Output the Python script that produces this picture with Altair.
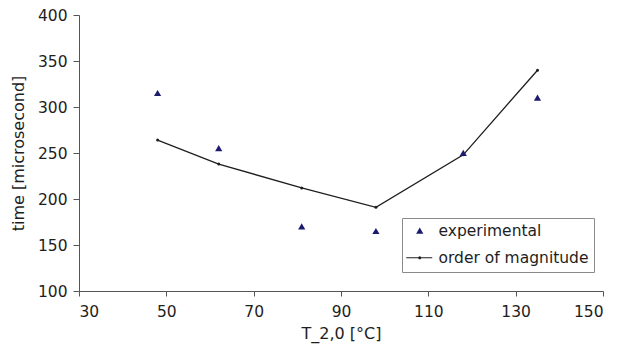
import altair as alt
import pandas as pd

# Measured response time versus initial temperature T_2,0
temp_exp = [48, 62, 81, 98, 118, 135]
time_exp = [315, 255, 170, 165, 250, 310]

# Order-of-magnitude estimate at the same temperatures
temp_model = [48, 62, 81, 98, 118, 135]
time_model = [264, 238, 212, 191, 248, 340]

series_names = ["experimental", "order of magnitude"]
x_ticks = [30, 50, 70, 90, 110, 130, 150]
y_ticks = [100, 150, 200, 250, 300, 350, 400]

exp_df = pd.DataFrame({"T": temp_exp, "time": time_exp, "series": series_names[0]})
model_df = pd.DataFrame({"T": temp_model, "time": time_model, "series": series_names[1]})

FONT = "DejaVu Sans"
NAVY = "#1c1a6e"
INK = "#1e1e1e"

# legend symbols: small triangle, and a line with a dot in the middle
triangle_path = "M0,-0.66L0.72,0.58L-0.72,0.58Z"
line_dot_path = (
    "M-2.7,-0.1H-0.3V0.1H-2.7Z"
    "M0.3,-0.1H2.5V0.1H0.3Z"
    "M-0.32,0A0.32,0.32 0 1,0 0.32,0A0.32,0.32 0 1,0 -0.32,0Z"
)

x_enc = alt.X(
    "T:Q",
    scale=alt.Scale(domain=[30, 150], nice=False, zero=False),
    axis=alt.Axis(values=x_ticks, title="T_2,0 [°C]", tickSize=5,
                  labelPadding=8, titlePadding=6),
)
y_enc = alt.Y(
    "time:Q",
    scale=alt.Scale(domain=[100, 400], nice=False, zero=False),
    axis=alt.Axis(values=y_ticks, title="time [microsecond]", tickSize=6,
                  labelPadding=6, titlePadding=11),
)

series_legend = alt.Legend(
    title=None,
    orient="none",
    legendX=323,
    legendY=203,
    strokeColor="#8a8a8a",
    fillColor="white",
    padding=5,
    symbolOffset=5,
    labelOffset=11,
    rowPadding=10,
    symbolSize=100,
    symbolStrokeWidth=0,
    labelFont=FONT,
    labelFontSize=15.5,
    labelColor=INK,
    labelLimit=400,
)

model_line = alt.Chart(model_df).mark_line(color=INK, strokeWidth=1.3).encode(
    x=x_enc, y=y_enc
)
model_dots = alt.Chart(model_df).mark_point(
    filled=True, size=9, color=INK, opacity=1, shape="circle"
).encode(x=x_enc, y=y_enc)

exp_points = alt.Chart(exp_df).mark_point(filled=True, opacity=1, size=100).encode(
    x=x_enc,
    y=y_enc,
    shape=alt.Shape(
        "series:N",
        scale=alt.Scale(domain=series_names, range=[triangle_path, line_dot_path]),
        legend=series_legend,
    ),
    color=alt.Color(
        "series:N",
        scale=alt.Scale(domain=series_names, range=[NAVY, INK]),
        legend=series_legend,
    ),
)

chart = (
    alt.layer(model_line, model_dots, exp_points)
    .properties(
        width=524,
        height=276,
        autosize=alt.AutoSizeParams(type="none"),
        padding={"left": 79, "top": 15, "right": 16, "bottom": 63},
    )
    .configure_view(stroke=None)
    .configure_axis(
        grid=False,
        domainColor="#555",
        tickColor="#555",
        labelFont=FONT,
        labelFontSize=15.5,
        labelColor=INK,
        titleFont=FONT,
        titleFontSize=16,
        titleFontWeight="normal",
        titleColor=INK,
    )
)

chart.save("out.html", embed_options={"renderer": "svg", "actions": False})
